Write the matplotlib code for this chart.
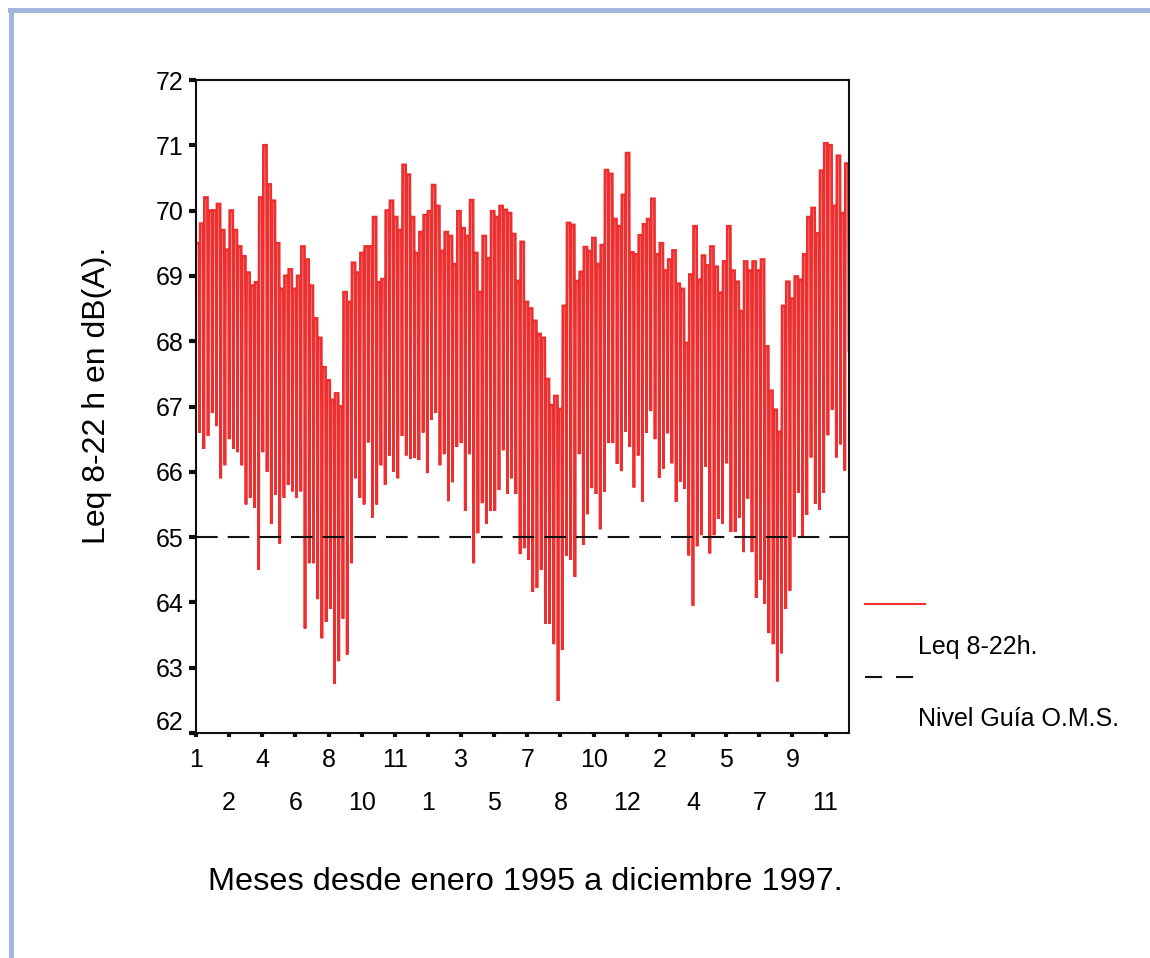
import matplotlib
matplotlib.use("Agg")
import matplotlib.pyplot as plt
import matplotlib.transforms as mtransforms
from matplotlib.lines import Line2D
from matplotlib.patches import Rectangle

# Leq 8-22 h, máximo (días laborables) y mínimo (domingo) de cada semana,
# enero 1995 - diciembre 1997, en dB(A)
leq_max_semanal = [
    69.5, 69.8, 70.2, 70.0, 70.0, 70.1, 69.7, 69.4, 70.0, 69.7,
    69.45, 69.3, 69.05, 68.85, 68.9, 70.2, 71.0, 70.4, 70.15, 69.5,
    68.8, 69.0, 69.1, 68.8, 69.0, 69.45, 69.25, 68.85, 68.35, 68.05,
    67.6, 67.4, 67.1, 67.2, 67.0, 68.75, 68.6, 69.2, 69.05, 69.35,
    69.45, 69.45, 69.9, 68.9, 68.95, 70.0, 70.15, 69.9, 69.7, 70.7,
    70.55, 69.9, 69.35, 69.67, 69.93, 69.99, 70.39, 70.07, 69.38, 69.67,
    69.61, 69.18, 69.99, 69.73, 69.61, 70.16, 69.35, 68.75, 69.61, 69.27,
    69.99, 69.9, 70.07, 70.01, 69.96, 69.64, 68.92, 69.52, 68.6, 68.5,
    68.31, 68.11, 68.05, 67.42, 67.02, 67.16, 66.96, 68.54, 69.81, 69.78,
    68.92, 69.06, 69.44, 69.38, 69.58, 69.18, 69.47, 70.62, 70.56, 69.87,
    69.76, 70.24, 70.88, 69.36, 69.33, 69.62, 69.79, 69.87, 70.18, 69.33,
    69.5, 69.08, 69.25, 69.39, 68.88, 68.8, 67.97, 69.02, 69.76, 68.94,
    69.31, 69.16, 69.45, 69.14, 68.74, 69.22, 69.76, 69.08, 68.91, 68.46,
    69.22, 69.08, 69.22, 69.08, 69.25, 67.92, 67.24, 66.95, 66.61, 68.54,
    68.91, 68.65, 68.99, 68.94, 69.33, 69.9, 70.04, 69.65, 70.61, 71.03,
    71.0, 70.07, 70.84, 69.96, 70.72,
]
leq_min_semanal = [
    66.6, 66.35, 66.55, 66.9, 66.7, 65.9, 66.1, 66.5, 66.35, 66.3,
    66.1, 65.5, 65.6, 65.45, 64.5, 66.3, 66.0, 65.2, 65.65, 64.9,
    65.6, 65.8, 65.7, 65.6, 65.7, 63.6, 64.6, 64.6, 64.05, 63.45,
    63.7, 63.9, 62.75, 63.1, 63.75, 63.2, 64.6, 65.9, 65.6, 65.5,
    66.45, 65.3, 65.5, 66.1, 65.8, 66.25, 66.0, 65.9, 66.55, 66.25,
    66.2, 66.21, 66.18, 66.6, 65.98, 66.8, 66.9, 66.1, 66.27, 65.55,
    65.84, 66.38, 66.44, 65.4, 66.27, 64.6, 65.06, 65.52, 65.2, 65.4,
    65.4, 65.72, 66.33, 65.66, 65.9, 65.66, 64.74, 64.83, 64.65, 64.16,
    64.22, 64.5, 63.67, 63.67, 63.36, 62.49, 63.27, 64.71, 64.65, 64.39,
    66.27, 64.88, 65.35, 65.75, 65.66, 65.12, 65.69, 66.44, 66.44, 66.12,
    66.01, 66.61, 66.38, 65.76, 66.25, 65.54, 66.6, 66.93, 66.5, 65.91,
    66.05, 66.59, 66.13, 65.54, 65.85, 65.74, 64.72, 63.95, 64.86, 65.03,
    66.08, 64.75, 65.03, 65.28, 65.2, 66.13, 65.08, 65.08, 65.3, 64.77,
    65.59, 64.77, 64.07, 64.35, 63.98, 63.53, 63.36, 62.79, 63.22, 63.9,
    64.18, 65.0, 65.68, 65.0, 65.34, 66.22, 65.51, 65.42, 65.68, 66.56,
    66.95, 66.22, 66.42, 66.02, 67.85,
]
nivel_guia_oms = 65

# Marcas del eje X: cada 55 días, etiquetadas con el mes correspondiente
dias_marca = [1, 56, 111, 166, 221, 276, 331, 386, 441, 496,
              551, 606, 661, 716, 771, 826, 881, 936, 991, 1046]
meses_marca = ["1", "2", "4", "6", "8", "10", "11", "1", "3", "5",
               "7", "8", "10", "12", "2", "4", "5", "7", "9", "11"]
valores_y = [62, 63, 64, 65, 66, 67, 68, 69, 70, 71, 72]

ROJO = "#ee2f2f"
NEGRO = "#101010"
AZUL_MARCO = "#a2b5dd"

plt.rcParams["font.family"] = ["Liberation Sans", "DejaVu Sans"]

W, H = 1150, 958
fig = plt.figure(figsize=(W / 100, H / 100), dpi=100)
fig.patch.set_facecolor("white")

# Marco azul (borde superior e izquierdo)
fig.add_artist(Rectangle((8 / W, 1 - 13 / H), 1 - 8 / W, 5 / H,
                         transform=fig.transFigure, color=AZUL_MARCO, lw=0))
fig.add_artist(Rectangle((9 / W, 0), 5 / W, 1 - 8 / H,
                         transform=fig.transFigure, color=AZUL_MARCO, lw=0))

ax = fig.add_axes([196 / W, 1 - 733 / H, (849 - 196) / W, (733 - 80) / H])

# Serie diaria: nivel de lunes a sábado y caída del domingo
dias, valores = [], []
for k, (hi, lo) in enumerate(zip(leq_max_semanal, leq_min_semanal)):
    dias += [7 * k + 1, 7 * k + 6, 7 * k + 7]
    valores += [hi, hi, lo]
ax.plot(dias, valores, color=ROJO, lw=2.0, solid_joinstyle="miter",
        zorder=2)

ax.axhline(nivel_guia_oms, color=NEGRO, lw=1.5, dashes=(10.4, 4.8), zorder=3)

ax.set_xlim(1, 1085)
ax.set_ylim(62, 72)

for s in ax.spines.values():
    s.set_linewidth(1.5)
    s.set_color(NEGRO)

ax.set_yticks(valores_y)
ax.set_yticklabels([str(v) for v in valores_y])
ax.tick_params(axis="y", direction="out", length=5, width=3, labelsize=18,
               pad=4, color=NEGRO)

ax.set_xticks(dias_marca[0::2])
ax.set_xticklabels(meses_marca[0::2])
ax.set_xticks(dias_marca[1::2], minor=True)
ax.set_xticklabels(meses_marca[1::2], minor=True)
ax.tick_params(axis="x", which="both", direction="out", length=3, width=3,
               labelsize=18, color=NEGRO)
ax.tick_params(axis="x", which="major", pad=8)
ax.tick_params(axis="x", which="minor", pad=39)

# La etiqueta 62 se sube para no chocar con las del eje X
lab62 = ax.get_yticklabels()[0]
lab62.set_transform(lab62.get_transform() +
                    mtransforms.ScaledTranslation(0, 12 / 100, fig.dpi_scale_trans))

fig.text(97 / W, 1 - 395 / H, "Leq 8-22 h en dB(A).", rotation=90,
         ha="center", va="center", fontsize=23)
fig.text(525 / W, 1 - 882 / H, "Meses desde enero 1995 a diciembre 1997.",
         ha="center", va="center", fontsize=23.4)

# Leyenda
fig.add_artist(Line2D([865 / W, 925 / W], [1 - 604 / H] * 2,
                      transform=fig.transFigure, color=ROJO, lw=1.5))
fig.text(918 / W, 1 - 647 / H, "Leq 8-22h.", ha="left", va="center", fontsize=18)
fig.add_artist(Line2D([865 / W, 915 / W], [1 - 677 / H] * 2,
                      transform=fig.transFigure, color=NEGRO, lw=1.5,
                      dashes=(8.2, 6.7)))
fig.text(918 / W, 1 - 719 / H, "Nivel Guía O.M.S.", ha="left", va="center", fontsize=18)

fig.savefig("out.png", dpi=100)
